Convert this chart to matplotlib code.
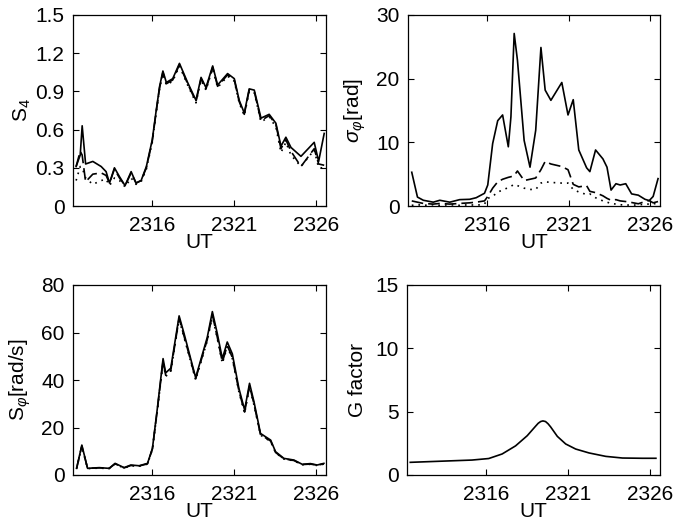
import numpy as np
import matplotlib.pyplot as plt

# ----------------------------
# Data
# ----------------------------
# S4 panel
t_s4 = [2311.34, 2311.59, 2311.71, 2311.92, 2312.36, 2312.87, 2313.17, 2313.38,
        2313.68, 2313.99, 2314.33, 2314.70, 2315.00, 2315.31, 2315.63, 2315.99,
        2316.23, 2316.44, 2316.64, 2316.85, 2317.24, 2317.65, 2318.15, 2318.66,
        2318.97, 2319.27, 2319.68, 2319.98, 2320.59, 2321.00, 2321.30, 2321.61,
        2321.91, 2322.22, 2322.63, 2323.13, 2323.54, 2323.85, 2324.15, 2324.46,
        2325.07, 2325.88, 2326.15, 2326.49]
s4_a = [0.31, 0.40, 0.63, 0.33, 0.35, 0.31, 0.27, 0.18, 0.30, 0.23, 0.16, 0.27,
        0.18, 0.20, 0.31, 0.52, 0.75, 0.94, 1.06, 0.97, 1.00, 1.12, 0.97, 0.83,
        1.01, 0.93, 1.10, 0.95, 1.04, 1.00, 0.83, 0.73, 0.92, 0.91, 0.69, 0.72,
        0.65, 0.47, 0.54, 0.46, 0.39, 0.50, 0.35, 0.57]
s4_b = [0.31, 0.43, 0.40, 0.19, 0.25, 0.26, 0.24, 0.18, 0.29, 0.22, 0.16, 0.26,
        0.18, 0.20, 0.30, 0.51, 0.74, 0.93, 1.05, 0.96, 0.99, 1.11, 0.96, 0.82,
        1.00, 0.92, 1.09, 0.94, 1.03, 0.99, 0.82, 0.72, 0.91, 0.90, 0.67, 0.71,
        0.64, 0.45, 0.52, 0.43, 0.31, 0.45, 0.33, 0.32]
s4_c = [0.20, 0.31, 0.30, 0.22, 0.17, 0.20, 0.21, 0.16, 0.22, 0.20, 0.15, 0.22,
        0.17, 0.19, 0.29, 0.50, 0.73, 0.92, 1.04, 0.95, 0.98, 1.10, 0.95, 0.81,
        0.99, 0.91, 1.08, 0.93, 1.02, 0.98, 0.81, 0.71, 0.90, 0.89, 0.66, 0.70,
        0.62, 0.42, 0.50, 0.40, 0.31, 0.44, 0.30, 0.30]

# sigma_phi panel
t_sig = [2311.38, 2311.73, 2312.09, 2312.70, 2313.10, 2313.71, 2314.32, 2314.93,
         2315.33, 2315.84, 2316.04, 2316.34, 2316.65, 2316.95, 2317.30, 2317.46,
         2317.66, 2317.86, 2318.27, 2318.63, 2318.98, 2319.30, 2319.56, 2319.91,
         2320.58, 2320.96, 2321.28, 2321.62, 2322.10, 2322.30, 2322.65, 2323.10,
         2323.35, 2323.60, 2323.90, 2324.16, 2324.50, 2324.86, 2325.27, 2325.68,
         2325.94, 2326.18, 2326.48]
sig_a = [5.3, 1.4, 0.9, 0.6, 0.9, 0.6, 1.0, 1.05, 1.3, 2.0, 3.3, 9.8, 13.4, 14.3,
         9.3, 14.0, 27.1, 22.9, 10.3, 6.1, 11.9, 24.9, 18.2, 16.6, 19.4, 14.3, 16.7,
         8.8, 6.0, 5.4, 8.8, 7.4, 6.1, 2.5, 3.5, 3.3, 3.5, 1.9, 1.7, 1.05, 0.85,
         1.5, 4.3]
sig_b = [0.8, 0.6, 0.4, 0.3, 0.4, 0.3, 0.4, 0.5, 0.6, 0.8, 1.5, 2.8, 3.8, 4.2,
         4.5, 4.6, 4.8, 5.5, 4.0, 4.2, 4.4, 5.7, 7.0, 6.6, 6.2, 5.7, 3.4, 3.0,
         3.2, 2.3, 2.1, 1.6, 1.2, 0.9, 1.0, 0.8, 0.7, 0.55, 0.35, 0.7, 0.85, 0.5, 0.7]
sig_c = [0.1, 0.2, 0.1, 0.2, 0.1, 0.2, 0.1, 0.2, 0.1, 0.3, 1.2, 1.5, 2.2, 2.5,
         2.9, 3.1, 3.4, 3.2, 2.8, 2.6, 2.6, 3.6, 3.8, 3.7, 3.6, 3.6, 2.6, 2.2,
         1.8, 1.9, 1.3, 0.8, 0.6, 0.4, 0.3, 0.2, 0.15, 0.15, 0.15, 0.3, 0.3, 0.35, 0.4]

# S_phi panel
t_sp = [2311.37, 2311.69, 2312.04, 2312.75, 2313.36, 2313.72, 2314.27, 2314.68,
        2315.19, 2315.70, 2316.00, 2316.30, 2316.65, 2316.81, 2317.12, 2317.63,
        2317.93, 2318.64, 2319.35, 2319.66, 2319.96, 2320.27, 2320.57, 2320.88,
        2321.28, 2321.63, 2321.93, 2322.20, 2322.60, 2323.22, 2323.52, 2324.03,
        2324.64, 2325.15, 2325.65, 2326.06, 2326.47]
sp_a = [2.8, 12.6, 2.8, 3.1, 2.8, 4.9, 3.1, 4.2, 3.9, 4.9, 11.2, 28.0, 49.0, 43.0,
        45.0, 67.0, 59.6, 41.0, 58.0, 68.8, 59.6, 49.0, 56.0, 51.0, 36.5, 27.4,
        38.6, 30.9, 17.5, 14.7, 9.8, 7.0, 6.3, 4.5, 4.8, 4.2, 4.9]
sp_b = [2.8, 12.2, 2.8, 3.0, 2.8, 4.7, 3.0, 4.0, 3.8, 4.7, 11.0, 27.5, 48.0, 42.0,
        44.0, 66.0, 58.5, 40.5, 57.0, 67.5, 58.0, 47.5, 54.5, 49.5, 35.5, 26.5,
        37.5, 30.0, 17.0, 14.3, 9.5, 6.8, 6.1, 4.4, 4.6, 4.1, 4.7]
sp_c = [2.7, 12.0, 2.7, 2.9, 2.7, 4.6, 2.9, 3.9, 3.7, 4.6, 10.8, 27.0, 47.5, 41.5,
        43.5, 65.5, 58.0, 40.0, 56.5, 67.0, 57.5, 47.0, 54.0, 49.0, 35.0, 26.0,
        37.0, 29.5, 16.8, 14.1, 9.4, 6.7, 6.0, 4.3, 4.5, 4.0, 4.6]

# G factor panel
t_g = [2311.35, 2315.12, 2316.14, 2316.96, 2317.78, 2318.49, 2319.00, 2319.16,
       2319.31, 2319.45, 2319.61, 2319.76, 2319.92, 2320.33, 2320.84, 2321.45,
       2322.27, 2323.29, 2324.31, 2325.53, 2326.35]
g_fac = [1.0, 1.18, 1.3, 1.66, 2.3, 3.1, 3.85, 4.08, 4.22, 4.27, 4.22, 4.05,
         3.8, 3.05, 2.45, 2.05, 1.74, 1.47, 1.34, 1.32, 1.32]

xticks = [2316, 2321, 2326]
xlim = (2311.15, 2326.6)

# ----------------------------
# Plot
# ----------------------------
plt.rcParams["font.family"] = ["Liberation Sans", "DejaVu Sans"]
plt.rcParams["font.size"] = 15
plt.rcParams["mathtext.fontset"] = "custom"
plt.rcParams["mathtext.it"] = "Liberation Sans:italic"
plt.rcParams["mathtext.rm"] = "Liberation Sans"

fig = plt.figure(figsize=(6.86, 5.25), dpi=100)

W, H = 686, 525
def make_ax(l, t, r, b):
    return fig.add_axes([l / W, 1 - b / H, (r - l) / W, (b - t) / H])

ax1 = make_ax(73, 15, 326, 206)
ax2 = make_ax(408, 15, 660, 206)
ax3 = make_ax(73, 285, 326, 475)
ax4 = make_ax(407, 285, 660, 475)

kw = dict(color="black", lw=1.2)
dash = (0, (7, 3))
dots = (0, (1, 3))

ax1.plot(t_s4, s4_c, ls=dots, **kw)
ax1.plot(t_s4, s4_b, ls=dash, **kw)
ax1.plot(t_s4, s4_a, ls="-", **kw)

ax2.plot(t_sig, sig_c, ls=dots, **kw)
ax2.plot(t_sig, sig_b, ls=dash, **kw)
ax2.plot(t_sig, sig_a, ls="-", **kw)

ax3.plot(t_sp, sp_c, ls=dots, **kw)
ax3.plot(t_sp, sp_b, ls=dash, **kw)
ax3.plot(t_sp, sp_a, ls="-", **kw)

ax4.plot(t_g, g_fac, ls="-", **kw)

ax1.set_ylim(0, 1.5)
ax1.set_yticks([0, 0.3, 0.6, 0.9, 1.2, 1.5])
ax1.set_yticklabels(["0", "0.3", "0.6", "0.9", "1.2", "1.5"])
ax2.set_ylim(0, 30)
ax2.set_yticks([0, 10, 20, 30])
ax3.set_ylim(0, 80)
ax3.set_yticks([0, 20, 40, 60, 80])
ax4.set_ylim(0, 15)
ax4.set_yticks([0, 5, 10, 15])

ax1.set_ylabel(r"S$_4$")
ax2.set_ylabel(r"$\sigma_{\varphi}$[rad]")
ax3.set_ylabel(r"S$_{\varphi}$[rad/s]")
ax4.set_ylabel("G factor")

for ax in (ax1, ax2, ax3, ax4):
    ax.set_xlim(*xlim)
    ax.set_xticks(xticks)
    ax.set_xlabel("UT")
    ax.tick_params(direction="in", top=True, right=True, length=4, width=0.8, pad=6)
    ax.tick_params(axis="x", pad=7)
    for sp in ax.spines.values():
        sp.set_linewidth(0.9)
    ax.xaxis.set_label_coords(0.5, -0.14)
    ax.yaxis.set_label_coords(-0.16, 0.5)

fig.savefig("out.png", dpi=100)
